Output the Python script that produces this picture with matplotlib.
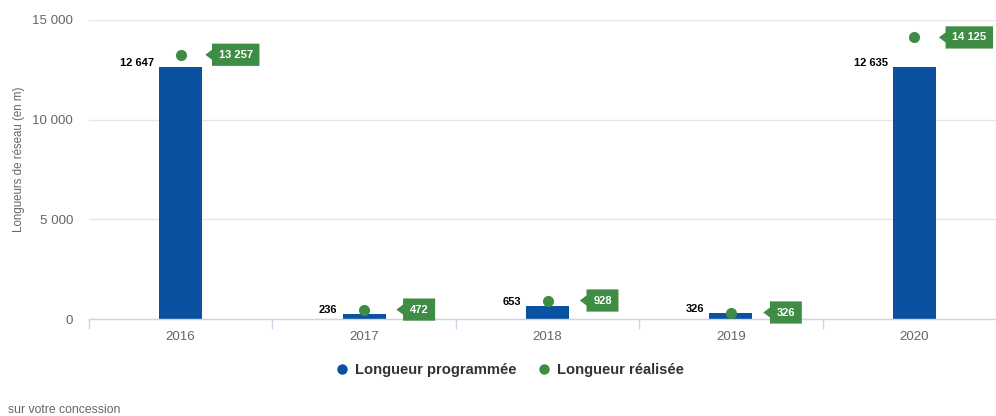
import matplotlib
matplotlib.use("Agg")
import matplotlib.pyplot as plt
from matplotlib.path import Path
from matplotlib.lines import Line2D

plt.rcParams['font.family'] = ['Liberation Sans', 'DejaVu Sans']

years = ["2016", "2017", "2018", "2019", "2020"]
programmee = [12647, 236, 653, 326, 12635]
realisee = [13257, 472, 928, 326, 14125]
yticks = [0, 5000, 10000, 15000]
ytick_labels = ["0", "5 000", "10 000", "15 000"]

BLUE = "#0a51a1"
GREEN = "#3f8c44"
DPI = 100
PX = 72.0 / DPI  # points per pixel

def fmt(v):
    return f"{v:,}".replace(",", " ")

fig = plt.figure(figsize=(9.96, 4.16), dpi=DPI)
W, H = 996.0, 416.0
ax = fig.add_axes([89 / W, 97 / H, (1006 - 89) / W, 299 / H])

x = list(range(len(years)))
bw = 0.235
ax.bar(x, programmee, width=bw, color=BLUE, zorder=2)
ax.plot(x, realisee, linestyle="none", marker="o", markersize=8,
        color=GREEN, markeredgewidth=0, zorder=3)

ax.set_xlim(-0.5, len(years) - 0.5)
ax.set_ylim(0, 15000)
ax.set_yticks(yticks)
ax.set_yticklabels(ytick_labels)
ax.set_xticks(x)
ax.set_xticklabels(years)
ax.set_xticks([i - 0.5 for i in range(len(years) + 1)], minor=True)
ax.tick_params(axis="x", which="major", length=0, pad=9, labelsize=9.6, labelcolor="#666666")
ax.tick_params(axis="x", which="minor", length=7.5, width=1, color="#ccd6eb")
ax.tick_params(axis="y", length=0, pad=16 * PX, labelsize=9.6, labelcolor="#666666")
for s in ["top", "right", "left"]:
    ax.spines[s].set_visible(False)
ax.spines["bottom"].set_color("#ccd6eb")
ax.spines["bottom"].set_linewidth(1)
ax.grid(axis="y", color="#e6e6e6", linewidth=1, zorder=0)
ax.set_axisbelow(True)
ax.set_ylabel("Longueurs de réseau (en m)", fontsize=8.3, color="#666666", labelpad=0)
ax.yaxis.set_label_coords(-64 / 917.0, 0.535)

# Bar labels (left of bar top)
for xi, v in zip(x, programmee):
    ax.annotate(fmt(v), xy=(xi - bw / 2, v), xytext=(-5 * PX, 4 * PX),
                textcoords="offset points", ha="right", va="center",
                fontsize=8, fontweight="bold", color="black", zorder=4)

# Green callout labels for realised lengths
def callout(x0, y0, width, height, mutation_size):
    pad = 0.55 * mutation_size
    padx = 0.6 * mutation_size
    x0 -= padx
    y0 -= pad
    w = width + 2 * padx
    h = height + 2 * pad
    a = 0.5 * mutation_size * 0.9
    tip = 0.6 * mutation_size
    ym = y0 + h / 2
    verts = [(x0, y0), (x0 + w, y0), (x0 + w, y0 + h), (x0, y0 + h),
             (x0, ym + a), (x0 - tip, ym), (x0, ym - a), (x0, y0)]
    codes = [Path.MOVETO] + [Path.LINETO] * 6 + [Path.CLOSEPOLY]
    return Path(verts, codes)

for xi, v in zip(x, realisee):
    ax.annotate(fmt(v), xy=(xi, v), xytext=(55 * PX, 0),
                textcoords="offset points", ha="center", va="center",
                fontsize=8, fontweight="bold", color="white", zorder=5,
                bbox=dict(boxstyle=callout, fc=GREEN, ec="none"))

# Legend
handles = [Line2D([], [], linestyle="none", marker="o", markersize=7.5,
                  color=BLUE, markeredgewidth=0),
           Line2D([], [], linestyle="none", marker="o", markersize=7.5,
                  color=GREEN, markeredgewidth=0)]
leg = fig.legend(handles, ["Longueur programmée", "Longueur réalisée"],
                 loc="center", bbox_to_anchor=(510 / W, 1 - 370 / H), ncol=2,
                 frameon=False, handlelength=0.8, handletextpad=0.5,
                 columnspacing=1.5, prop=dict(size=10.6, weight="bold"))
for t in leg.get_texts():
    t.set_color("#333333")

fig.text(8 / W, 1 - 410 / H, "sur votre concession", fontsize=8.8,
         color="#666666", ha="left", va="center")

fig.savefig("out.png", dpi=DPI, facecolor="white")
